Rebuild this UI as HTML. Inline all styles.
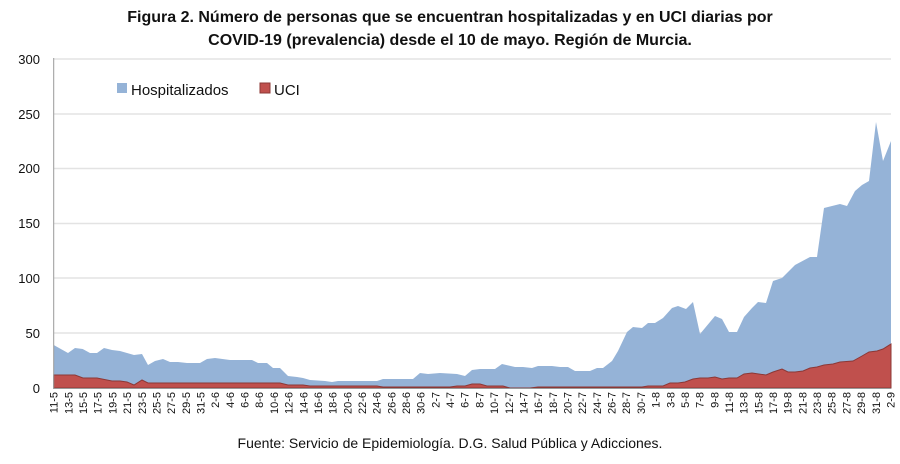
<!DOCTYPE html>
<html><head><meta charset="utf-8"><style>
body{margin:0;background:#fff;width:900px;height:459px;overflow:hidden;font-family:"Liberation Sans",sans-serif}
</style></head><body>
<svg width="900" height="459" viewBox="0 0 900 459" xmlns="http://www.w3.org/2000/svg" font-family="Liberation Sans, sans-serif">
<text x="450" y="22" text-anchor="middle" font-size="16" font-weight="bold" fill="#111">Figura 2. Número de personas que se encuentran hospitalizadas y en UCI diarias por</text>
<text x="450" y="45" text-anchor="middle" font-size="16" font-weight="bold" fill="#111">COVID-19 (prevalencia) desde el 10 de mayo. Región de Murcia.</text>
<g stroke="#e3e3e3" stroke-width="1.5">
<line x1="54" x2="891" y1="59" y2="59"/><line x1="54" x2="891" y1="114" y2="114"/><line x1="54" x2="891" y1="168.5" y2="168.5"/><line x1="54" x2="891" y1="223.5" y2="223.5"/><line x1="54" x2="891" y1="278" y2="278"/><line x1="54" x2="891" y1="333" y2="333"/>
</g>
<g font-size="13" fill="#111" text-anchor="end">
<text x="40" y="64">300</text><text x="40" y="119">250</text><text x="40" y="173">200</text><text x="40" y="228">150</text><text x="40" y="283">100</text><text x="40" y="338">50</text><text x="40" y="393">0</text>
</g>
<polygon fill="#95b3d7" points="53.7,388 53.7,345 68,353 75,348 82.7,349 90,353 97,353 104,348 112,350 120,351 127,353 134,355 142,354 148,365 155,361 163,359 170,362 178,362 187,363 200,363 207,359 215,358 230,360 252,360 258,363 267,363 273,368 280,368 288,376 297,377 303,378 310,380 325,381 332,382 338,381 377,381 383,379 413,379 420,373 428,374 440,373 457,374 465,376 472,370 480,369 495,369 502,364 515,367 523,367 532,368 538,366 552,366 560,367 568,367 575,371 590,371 597,368 603,368 612,361 618,351 627,332 633,327 642,328 648,323 655,323 663,318 672,308 678,306 686,309 693,302 700,334 715,316 722,319 729,332 737,332 744,317 752,308 758,302 766,303 773,281 782,278 788,272 795,265 810,257 817,257 824,208 840,204 847,206 855,191 862,185 869,181 876,122 883,161 891,141 891,388"/>
<polygon fill="#c0504d" stroke="#8c3836" stroke-width="1" points="53.7,388 53.7,375 75,375 83,378 97,378 112,381 120,381 127,382 134,385 142,380 148,383 280,383 288,385 303,385 310,386 377,386 383,387 450,387 457,386 465,386 472,384 480,384 487,386 503,386 510,388 530,388 538,387 612,387 627,387 633,387 642,387 648,386 663,386 670,383 678,383 685,382 693,379 700,378 708,378 715,377 722,379 729,378 737,378 744,374 752,373 766,375 773,372 782,369 788,372 795,372 803,371 810,368 817,367 824,365 833,364 840,362 853,361 862,356 869,352 877,351 883,349 891,344 891,388"/>
<line x1="53.7" x2="53.7" y1="58" y2="389" stroke="#999" stroke-width="1"/>
<line x1="53.7" x2="891" y1="388.5" y2="388.5" stroke="#999" stroke-width="1"/>
<rect x="117" y="83" width="10" height="10" fill="#95b3d7"/>
<text x="131" y="95" font-size="15" fill="#111">Hospitalizados</text>
<rect x="260" y="83" width="10" height="10" fill="#c0504d" stroke="#8c3836"/>
<text x="274" y="95" font-size="15" fill="#111">UCI</text>
<g font-size="11" fill="#111" text-anchor="end">
<text transform="translate(57.7,392) rotate(-90)">11-5</text>
<text transform="translate(72.4,392) rotate(-90)">13-5</text>
<text transform="translate(87.1,392) rotate(-90)">15-5</text>
<text transform="translate(101.7,392) rotate(-90)">17-5</text>
<text transform="translate(116.4,392) rotate(-90)">19-5</text>
<text transform="translate(131.1,392) rotate(-90)">21-5</text>
<text transform="translate(145.8,392) rotate(-90)">23-5</text>
<text transform="translate(160.5,392) rotate(-90)">25-5</text>
<text transform="translate(175.1,392) rotate(-90)">27-5</text>
<text transform="translate(189.8,392) rotate(-90)">29-5</text>
<text transform="translate(204.5,392) rotate(-90)">31-5</text>
<text transform="translate(219.2,392) rotate(-90)">2-6</text>
<text transform="translate(233.9,392) rotate(-90)">4-6</text>
<text transform="translate(248.5,392) rotate(-90)">6-6</text>
<text transform="translate(263.2,392) rotate(-90)">8-6</text>
<text transform="translate(277.9,392) rotate(-90)">10-6</text>
<text transform="translate(292.6,392) rotate(-90)">12-6</text>
<text transform="translate(307.3,392) rotate(-90)">14-6</text>
<text transform="translate(321.9,392) rotate(-90)">16-6</text>
<text transform="translate(336.6,392) rotate(-90)">18-6</text>
<text transform="translate(351.3,392) rotate(-90)">20-6</text>
<text transform="translate(366,392) rotate(-90)">22-6</text>
<text transform="translate(380.7,392) rotate(-90)">24-6</text>
<text transform="translate(395.3,392) rotate(-90)">26-6</text>
<text transform="translate(410,392) rotate(-90)">28-6</text>
<text transform="translate(424.7,392) rotate(-90)">30-6</text>
<text transform="translate(439.4,392) rotate(-90)">2-7</text>
<text transform="translate(454.1,392) rotate(-90)">4-7</text>
<text transform="translate(468.7,392) rotate(-90)">6-7</text>
<text transform="translate(483.4,392) rotate(-90)">8-7</text>
<text transform="translate(498.1,392) rotate(-90)">10-7</text>
<text transform="translate(512.8,392) rotate(-90)">12-7</text>
<text transform="translate(527.5,392) rotate(-90)">14-7</text>
<text transform="translate(542.1,392) rotate(-90)">16-7</text>
<text transform="translate(556.8,392) rotate(-90)">18-7</text>
<text transform="translate(571.5,392) rotate(-90)">20-7</text>
<text transform="translate(586.2,392) rotate(-90)">22-7</text>
<text transform="translate(600.9,392) rotate(-90)">24-7</text>
<text transform="translate(615.5,392) rotate(-90)">26-7</text>
<text transform="translate(630.2,392) rotate(-90)">28-7</text>
<text transform="translate(644.9,392) rotate(-90)">30-7</text>
<text transform="translate(659.6,392) rotate(-90)">1-8</text>
<text transform="translate(674.3,392) rotate(-90)">3-8</text>
<text transform="translate(688.9,392) rotate(-90)">5-8</text>
<text transform="translate(703.6,392) rotate(-90)">7-8</text>
<text transform="translate(718.3,392) rotate(-90)">9-8</text>
<text transform="translate(733,392) rotate(-90)">11-8</text>
<text transform="translate(747.7,392) rotate(-90)">13-8</text>
<text transform="translate(762.3,392) rotate(-90)">15-8</text>
<text transform="translate(777,392) rotate(-90)">17-8</text>
<text transform="translate(791.7,392) rotate(-90)">19-8</text>
<text transform="translate(806.4,392) rotate(-90)">21-8</text>
<text transform="translate(821.1,392) rotate(-90)">23-8</text>
<text transform="translate(835.7,392) rotate(-90)">25-8</text>
<text transform="translate(850.4,392) rotate(-90)">27-8</text>
<text transform="translate(865.1,392) rotate(-90)">29-8</text>
<text transform="translate(879.8,392) rotate(-90)">31-8</text>
<text transform="translate(894.5,392) rotate(-90)">2-9</text>
</g>
<text x="450" y="448" text-anchor="middle" font-size="14" fill="#111">Fuente: Servicio de Epidemiología. D.G. Salud Pública y Adicciones.</text>
</svg>
</body></html>
